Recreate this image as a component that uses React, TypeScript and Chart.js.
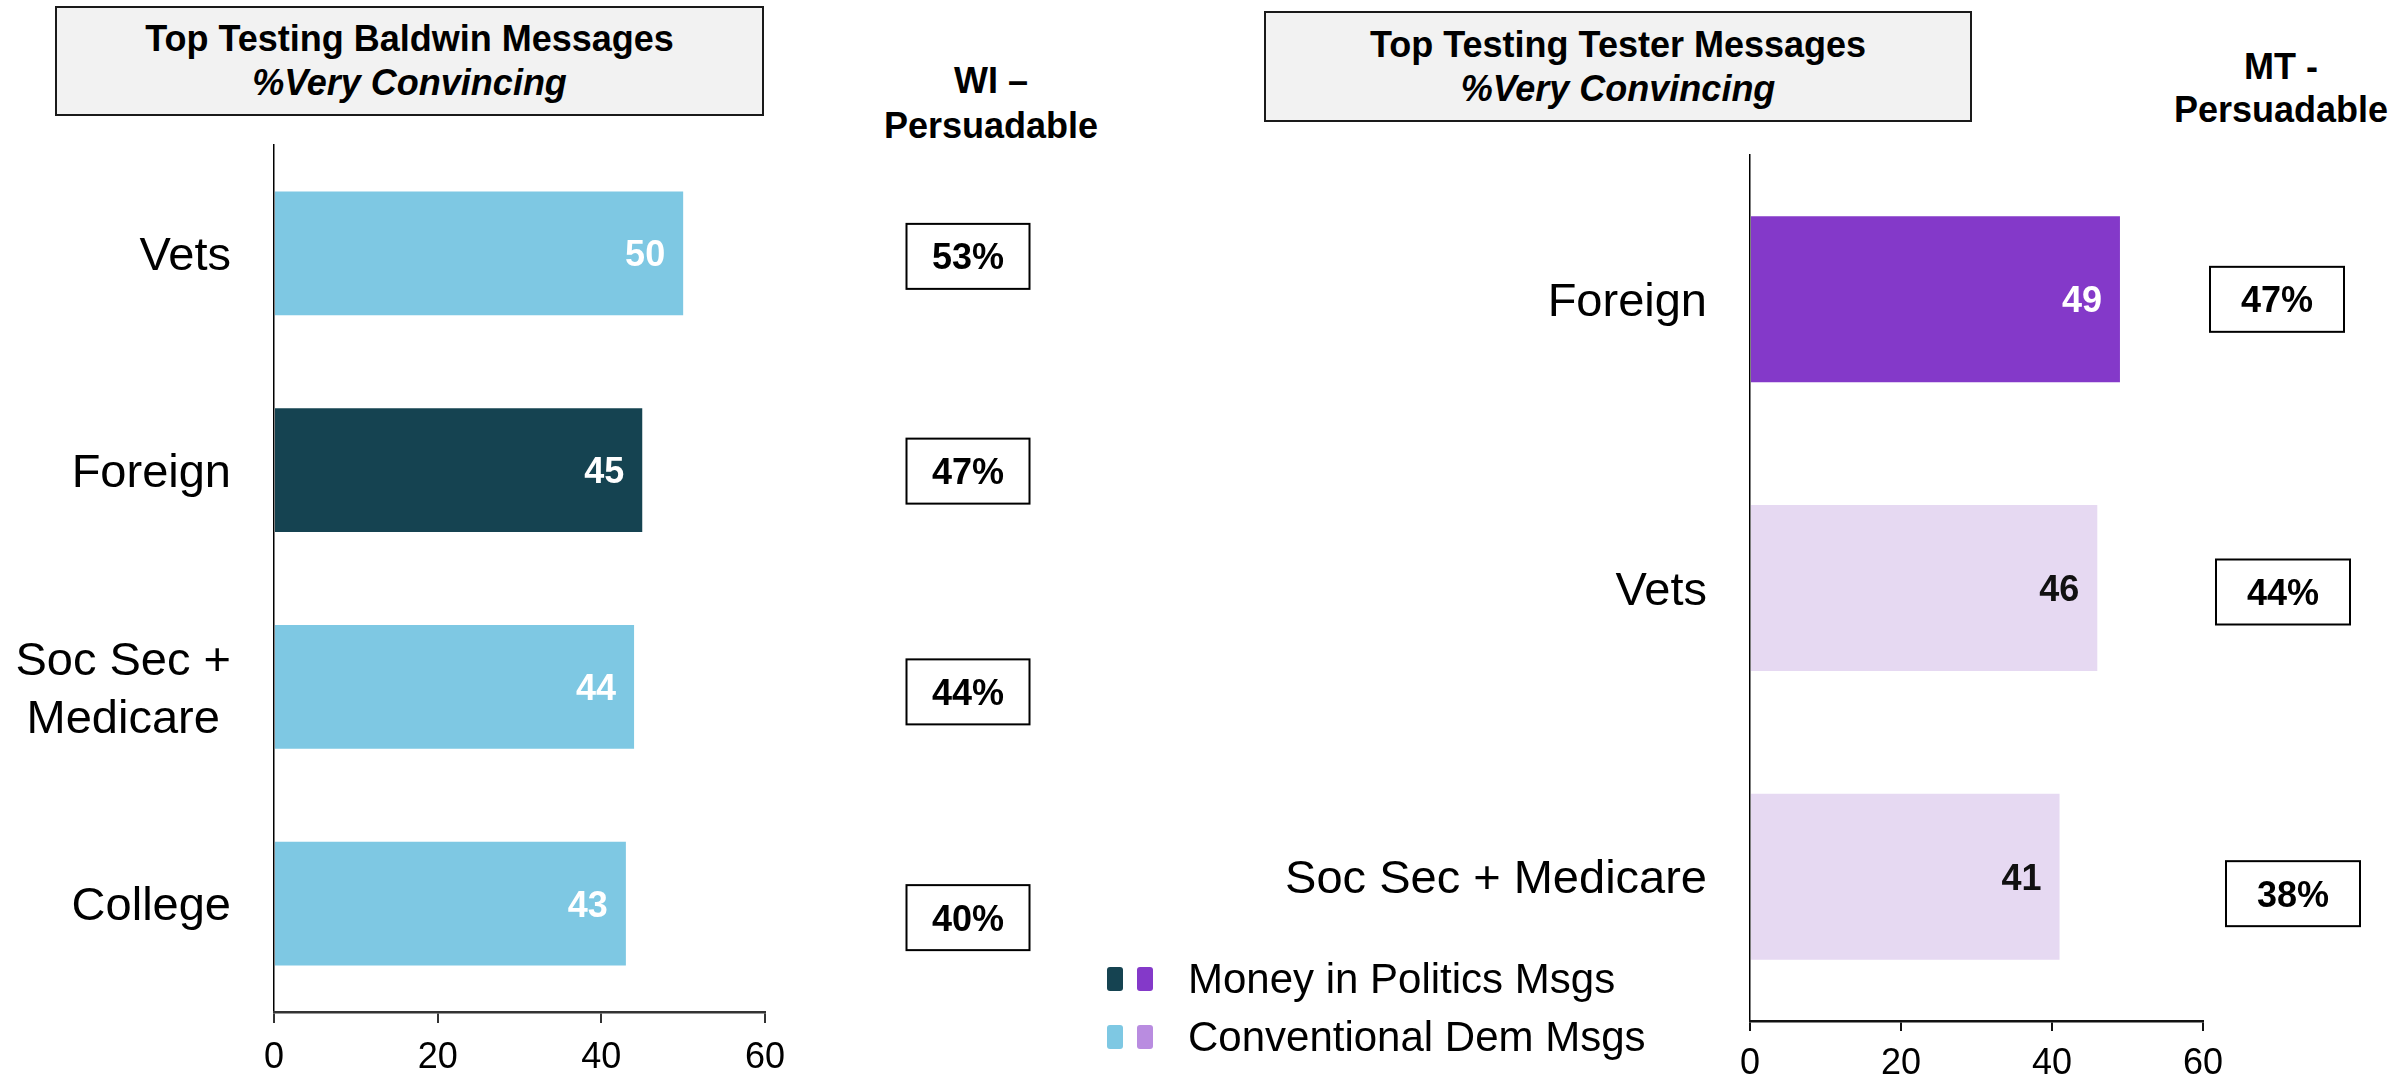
import React, { useEffect, useRef } from 'react';
import { Chart, registerables } from 'chart.js';

Chart.register(...registerables);

const FONT = '"Liberation Sans", Arial, Helvetica, sans-serif';
const W = 2402;
const H = 1079;

// ---------- data ----------
const wiCategories: (string | string[])[] = ['Vets', 'Foreign', ['Soc Sec +', 'Medicare'], 'College'];
const wiValues = [50, 45, 44, 43];
const wiGroups = ['conv', 'money', 'conv', 'conv'];
const wiPersuadable = ['53%', '47%', '44%', '40%'];

const mtCategories: (string | string[])[] = ['Foreign', 'Vets', 'Soc Sec + Medicare'];
const mtValues = [49, 46, 41];
const mtGroups = ['money', 'conv', 'conv'];
const mtPersuadable = ['47%', '44%', '38%'];

const xTickValues = [0, 20, 40, 60];

const legendLabels = ['Money in Politics Msgs', 'Conventional Dem Msgs'];

// ---------- styles ----------
const WI_COLORS: Record<string, string> = { money: '#154351', conv: '#7EC8E3' };
const WI_TEXT: Record<string, string> = { money: '#FFFFFF', conv: '#FFFFFF' };
const MT_COLORS: Record<string, string> = { money: '#8439C9', conv: '#E6D9F2' };
const MT_TEXT: Record<string, string> = { money: '#FFFFFF', conv: '#111111' };
const LEGEND_SWATCHES = [
  ['#154351', '#8439C9'],
  ['#7EC8E3', '#B98CE0'],
];

type PanelCfg = {
  labels: (string | string[])[];
  values: number[];
  colors: string[];
  textColors: string[];
  persuadable: string[];
  area: { left: number; top: number; right: number; bottom: number };
  barPct: number;
  box: { cx: number[]; w: number; h: number; dy: number[] };
  xBorder: string;
  tickLength: number;
  tickPadding: number;
};

function annotationPlugin(cfg: PanelCfg) {
  return {
    id: 'annotations',
    afterDraw(chart: any) {
      const { ctx, chartArea } = chart;
      const yScale = chart.scales.y;
      const meta = chart.getDatasetMeta(0);
      ctx.save();
      // category labels
      const catSize = 47;
      ctx.font = `${catSize}px ${FONT}`;
      ctx.fillStyle = '#000';
      ctx.textBaseline = 'alphabetic';
      ctx.textAlign = 'center';
      cfg.labels.forEach((lab, i) => {
        const lines = Array.isArray(lab) ? lab : [lab];
        const cy = yScale.getPixelForValue(i);
        const widest = Math.max(...lines.map((l) => ctx.measureText(l).width));
        const right = chartArea.left - 43;
        const cx = right - widest / 2;
        const lh = 58;
        lines.forEach((l, j) => {
          const ly = cy + (j - (lines.length - 1) / 2) * lh;
          ctx.fillText(l, cx, ly + catSize * 0.358);
        });
      });
      // value labels inside bars
      const valSize = 36;
      ctx.font = `bold ${valSize}px ${FONT}`;
      ctx.textAlign = 'right';
      meta.data.forEach((bar: any, i: number) => {
        ctx.fillStyle = cfg.textColors[i];
        ctx.fillText(String(cfg.values[i]), bar.x - 18, bar.y + valSize * 0.358);
      });
      // persuadable boxes
      ctx.textAlign = 'center';
      meta.data.forEach((bar: any, i: number) => {
        const cy = bar.y + cfg.box.dy[i];
        const cx = cfg.box.cx[i];
        const x0 = cx - cfg.box.w / 2;
        const y0 = cy - cfg.box.h / 2;
        ctx.fillStyle = '#FFFFFF';
        ctx.fillRect(x0, y0, cfg.box.w, cfg.box.h);
        ctx.lineWidth = 2;
        ctx.strokeStyle = '#000';
        ctx.strokeRect(x0, y0, cfg.box.w, cfg.box.h);
        ctx.fillStyle = '#000';
        ctx.fillText(cfg.persuadable[i], cx, cy + valSize * 0.358);
      });
      ctx.restore();
    },
  };
}

function makeConfig(cfg: PanelCfg): any {
  return {
    type: 'bar',
    data: {
      labels: cfg.labels,
      datasets: [
        {
          data: cfg.values,
          backgroundColor: cfg.colors,
          borderWidth: 0,
          categoryPercentage: 1,
          barPercentage: cfg.barPct,
        },
      ],
    },
    options: {
      indexAxis: 'y',
      responsive: false,
      animation: false,
      devicePixelRatio: 1,
      events: [],
      layout: {
        padding: { left: 0, top: cfg.area.top, right: W - cfg.area.right, bottom: 0 },
      },
      plugins: { legend: { display: false }, tooltip: { enabled: false } },
      scales: {
        y: {
          type: 'category',
          ticks: { display: false },
          grid: { display: false },
          border: { display: true, color: '#000', width: 1.5 },
          afterFit: (s: any) => {
            s.width = cfg.area.left;
          },
        },
        x: {
          type: 'linear',
          min: 0,
          max: 60,
          afterBuildTicks: (s: any) => {
            s.ticks = xTickValues.map((v) => ({ value: v }));
          },
          ticks: {
            color: '#000',
            font: { family: FONT, size: 36 },
            padding: cfg.tickPadding,
            maxRotation: 0,
          },
          grid: {
            display: true,
            drawOnChartArea: false,
            drawTicks: true,
            tickLength: cfg.tickLength,
            color: cfg.xBorder,
            lineWidth: 2,
          },
          border: { display: true, color: cfg.xBorder, width: 2.5 },
          afterFit: (s: any) => {
            s.height = H - cfg.area.bottom;
          },
        },
      },
    },
    plugins: [annotationPlugin(cfg)],
  };
}

const wiCfg: PanelCfg = {
  labels: wiCategories,
  values: wiValues,
  colors: wiGroups.map((g) => WI_COLORS[g]),
  textColors: wiGroups.map((g) => WI_TEXT[g]),
  persuadable: wiPersuadable,
  area: { left: 274, top: 145, right: 765, bottom: 1012 },
  barPct: 0.572,
  box: { cx: [968, 968, 968, 968], w: 123, h: 65, dy: [3, 1, 5, 14] },
  xBorder: '#333333',
  tickLength: 11,
  tickPadding: 13,
};

const mtCfg: PanelCfg = {
  labels: mtCategories,
  values: mtValues,
  colors: mtGroups.map((g) => MT_COLORS[g]),
  textColors: mtGroups.map((g) => MT_TEXT[g]),
  persuadable: mtPersuadable,
  area: { left: 1750, top: 155, right: 2203, bottom: 1021 },
  barPct: 0.575,
  box: { cx: [2277, 2283, 2293], w: 134, h: 65, dy: [0, 4, 17] },
  xBorder: '#111111',
  tickLength: 10,
  tickPadding: 11,
};

function ChartCanvas({ cfg }: { cfg: PanelCfg }) {
  const ref = useRef<HTMLCanvasElement | null>(null);
  useEffect(() => {
    if (!ref.current) return;
    const chart = new Chart(ref.current, makeConfig(cfg));
    return () => chart.destroy();
  }, [cfg]);
  return (
    <canvas
      ref={ref}
      width={W}
      height={H}
      style={{ position: 'absolute', left: 0, top: 0, width: W, height: H }}
    />
  );
}

const titleBox = (left: number, top: number, width: number, height: number): React.CSSProperties => ({
  position: 'absolute',
  left,
  top,
  width,
  height,
  boxSizing: 'border-box',
  background: '#F2F2F2',
  border: '2px solid #1A1A1A',
  display: 'flex',
  flexDirection: 'column',
  justifyContent: 'center',
  alignItems: 'center',
  fontFamily: FONT,
  fontWeight: 'bold',
  fontSize: 36,
  lineHeight: '44px',
  color: '#000',
});

const header = (cx: number, top: number, lh: number): React.CSSProperties => ({
  position: 'absolute',
  left: cx - 200,
  top,
  width: 400,
  textAlign: 'center',
  fontFamily: FONT,
  fontWeight: 'bold',
  fontSize: 36,
  lineHeight: `${lh}px`,
  color: '#000',
});

export default function App() {
  return (
    <div
      style={{
        position: 'absolute',
        left: 0,
        top: 0,
        width: W,
        height: H,
        background: '#FFFFFF',
        overflow: 'hidden',
      }}
    >
      <div style={titleBox(55, 6, 709, 110)}>
        <div>Top Testing Baldwin Messages</div>
        <div style={{ fontStyle: 'italic' }}>%Very Convincing</div>
      </div>
      <div style={titleBox(1264, 11, 708, 111)}>
        <div>Top Testing Tester Messages</div>
        <div style={{ fontStyle: 'italic' }}>%Very Convincing</div>
      </div>
      <div style={header(991, 58, 45)}>
        <div>WI –</div>
        <div>Persuadable</div>
      </div>
      <div style={header(2281, 45, 43)}>
        <div>MT -</div>
        <div>Persuadable</div>
      </div>
      <ChartCanvas cfg={wiCfg} />
      <ChartCanvas cfg={mtCfg} />
      {legendLabels.map((lab, i) => (
        <div
          key={lab}
          style={{
            position: 'absolute',
            left: 1107,
            top: 979 + i * 58 - 29,
            height: 58,
            display: 'flex',
            alignItems: 'center',
            fontFamily: FONT,
            fontSize: 42,
            color: '#000',
            whiteSpace: 'nowrap',
          }}
        >
          <span
            style={{ display: 'inline-block', width: 16, height: 24, borderRadius: 3, background: LEGEND_SWATCHES[i][0] }}
          />
          <span
            style={{
              display: 'inline-block',
              width: 16,
              height: 24,
              borderRadius: 3,
              marginLeft: 14,
              background: LEGEND_SWATCHES[i][1],
            }}
          />
          <span style={{ marginLeft: 35 }}>{lab}</span>
        </div>
      ))}
    </div>
  );
}
